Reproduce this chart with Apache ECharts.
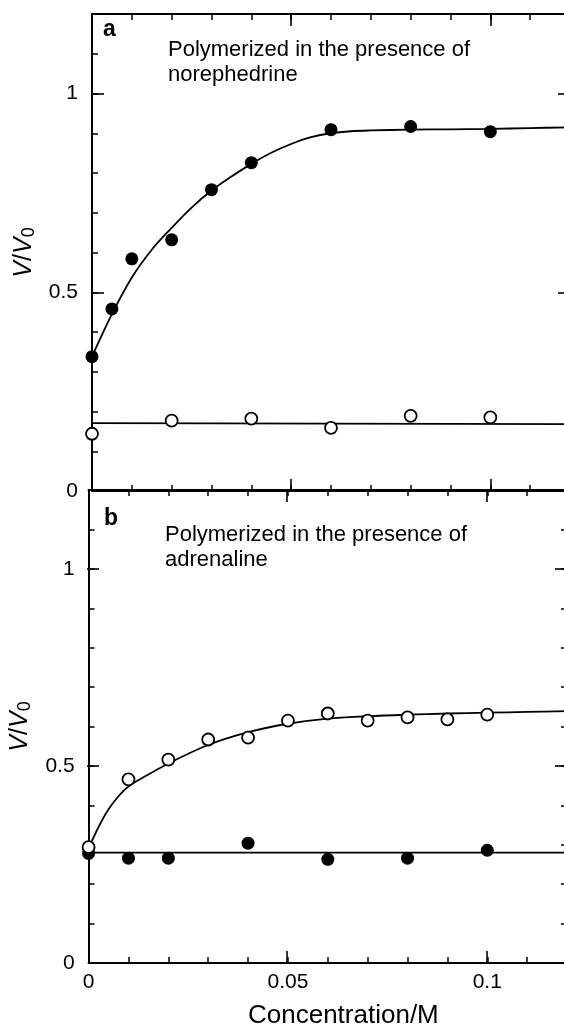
<!DOCTYPE html>
<html><head><meta charset="utf-8">
<script src="https://cdn.jsdelivr.net/npm/echarts@6/dist/echarts.min.js"></script>
<style>html,body{margin:0;padding:0;overflow:hidden;background:#fff}#c{width:574px;height:1027px}</style>
</head><body><div id="c"></div>
<script>
// ---- Panel a: polymerized in the presence of norephedrine ----
const concFilledA = [0, 0.005, 0.01, 0.02, 0.03, 0.04, 0.06, 0.08, 0.1];
const valFilledA  = [0.338, 0.458, 0.584, 0.632, 0.758, 0.826, 0.909, 0.917, 0.904];
const concOpenA   = [0, 0.02, 0.04, 0.06, 0.08, 0.1];
const valOpenA    = [0.144, 0.177, 0.182, 0.159, 0.189, 0.185];
const concFitA    = [0, 0.005, 0.01, 0.015, 0.02, 0.025, 0.03, 0.035, 0.04, 0.045, 0.05, 0.055, 0.06, 0.065, 0.07, 0.08, 0.09, 0.1, 0.11, 0.12];
const valFitA     = [0.338, 0.445, 0.537, 0.607, 0.662, 0.713, 0.756, 0.791, 0.823, 0.851, 0.873, 0.890, 0.900, 0.905, 0.907, 0.909, 0.910, 0.911, 0.913, 0.915];
const concFlatA   = [0, 0.12];
const valFlatA    = [0.171, 0.168];

// ---- Panel b: polymerized in the presence of adrenaline ----
const concOpenB   = [0, 0.01, 0.02, 0.03, 0.04, 0.05, 0.06, 0.07, 0.08, 0.09, 0.1];
const valOpenB    = [0.294, 0.466, 0.516, 0.567, 0.572, 0.615, 0.633, 0.615, 0.623, 0.618, 0.630];
const concFilledB = [0, 0.01, 0.02, 0.04, 0.06, 0.08, 0.1];
const valFilledB  = [0.278, 0.266, 0.266, 0.304, 0.263, 0.266, 0.286];
const concFitB    = [0, 0.0025, 0.005, 0.0075, 0.01, 0.015, 0.02, 0.025, 0.03, 0.035, 0.04, 0.05, 0.06, 0.07, 0.08, 0.09, 0.1, 0.11, 0.12];
const valFitB     = [0.291, 0.345, 0.39, 0.423, 0.448, 0.478, 0.506, 0.531, 0.553, 0.571, 0.586, 0.607, 0.620, 0.626, 0.630, 0.633, 0.635, 0.637, 0.639];
const concFlatB   = [0, 0.12];
const valFlatB    = [0.280, 0.280];

// ---- Axis ticks / labels ----
const xLabels = [0, 0.05, 0.1];
const xMajor  = [0.05, 0.1];
const yLabels = [0, 0.5, 1];
const yMajor  = [0.5, 1];
const panelTitlesA = ['Polymerized in the presence of', 'norephedrine'];
const panelTitlesB = ['Polymerized in the presence of', 'adrenaline'];

const FONT = 'Liberation Sans, Arial, Helvetica, sans-serif';
const INK = '#000';
const zip = (xs, ys) => xs.map((x, i) => [x, ys[i]]);

function minorX(grid, pos, labels) {
  return {
    type: 'value', gridIndex: grid, position: pos, min: 0, max: 0.12, interval: 0.01,
    axisLine: {show: true, onZero: false, lineStyle: {color: INK, width: 2}},
    axisTick: {show: true, inside: true, length: 6, lineStyle: {color: INK, width: 1.5}},
    axisLabel: labels ? {show: true, margin: 9, fontSize: 21, color: INK, fontFamily: FONT,
      customValues: xLabels,
      formatter: v => { const t = xLabels.find(t => Math.abs(t - v) < 1e-9); return t === undefined ? '' : String(t); }
    } : {show: false},
    splitLine: {show: false}
  };
}
function majorX(grid, pos) {
  return {
    type: 'value', gridIndex: grid, position: pos, min: 0, max: 0.12, interval: 0.05,
    axisLine: {show: false, onZero: false},
    axisTick: {show: true, inside: true, length: 12, customValues: xMajor, lineStyle: {color: INK, width: 1.6}},
    axisLabel: {show: false}, splitLine: {show: false}
  };
}
function minorY(grid, pos, labels) {
  const ax = {
    type: 'value', gridIndex: grid, position: pos, min: 0, max: 1.2, interval: 0.1,
    axisLine: {show: true, onZero: false, lineStyle: {color: INK, width: 2}},
    axisTick: {show: true, inside: true, length: 6, lineStyle: {color: INK, width: 1.5}},
    axisLabel: labels ? {show: true, margin: 14, fontSize: 21, color: INK, fontFamily: FONT,
      customValues: yLabels,
      formatter: v => { const t = yLabels.find(t => Math.abs(t - v) < 1e-9); return t === undefined ? '' : String(t); }
    } : {show: false},
    splitLine: {show: false}
  };
  if (labels) {
    ax.name = '{i|V}{n|/}{i|V}{s|0}';
    ax.nameLocation = 'middle';
    ax.nameRotate = 90;
    ax.nameGap = 52;
    ax.nameTextStyle = {
      rich: {
        i: {fontStyle: 'italic', fontSize: 25, fontFamily: FONT, color: INK, lineHeight: 28},
        n: {fontSize: 25, fontFamily: FONT, color: INK, lineHeight: 28},
        s: {fontSize: 18, fontFamily: FONT, color: INK, lineHeight: 28, verticalAlign: 'bottom', padding: [8, 0, 0, 0]}
      }
    };
  }
  return ax;
}
function majorY(grid, pos) {
  return {
    type: 'value', gridIndex: grid, position: pos, min: 0, max: 1.2, interval: 0.5,
    axisLine: {show: false, onZero: false},
    axisTick: {show: true, inside: true, length: 12, customValues: yMajor, lineStyle: {color: INK, width: 1.6}},
    axisLabel: {show: false}, splitLine: {show: false}
  };
}
function lineSeries(xi, yi, xs, ys, smooth) {
  return {type: 'line', xAxisIndex: xi, yAxisIndex: yi, data: zip(xs, ys), smooth: smooth,
    symbol: 'none', lineStyle: {color: INK, width: 1.8}, z: 2, silent: true};
}
function dots(xi, yi, xs, ys, open) {
  return {type: 'scatter', xAxisIndex: xi, yAxisIndex: yi, data: zip(xs, ys), clip: false,
    symbol: 'circle', symbolSize: open ? 12 : 13, z: open ? 4 : 3,
    itemStyle: open ? {color: '#fff', borderColor: INK, borderWidth: 1.8, opacity: 1} : {color: INK, opacity: 1}};
}
function txt(x, y, s, size, bold) {
  return {type: 'text', x: x, y: y, z: 10, style: {text: s, fill: INK, font: (bold ? 'bold ' : '') + size + 'px ' + FONT,
    textAlign: 'left', textVerticalAlign: 'middle'}};
}

const chart = echarts.init(document.getElementById('c'), null, {renderer: 'canvas'});
chart.setOption({
  animation: false,
  backgroundColor: '#fff',
  grid: [
    {left: 92, top: 14, width: 478, height: 477},
    {left: 92, top: 14, width: 478, height: 477},
    {left: 87, top: 490, width: 480, height: 473},
    {left: 87, top: 490, width: 480, height: 473}
  ],
  xAxis: [
    minorX(0, 'bottom', false), minorX(0, 'top', false),
    majorX(1, 'bottom'), majorX(1, 'top'),
    minorX(2, 'bottom', true), minorX(2, 'top', false),
    majorX(3, 'bottom'), majorX(3, 'top')
  ],
  yAxis: [
    minorY(0, 'left', true), minorY(0, 'right', false),
    majorY(1, 'left'), majorY(1, 'right'),
    minorY(2, 'left', true), minorY(2, 'right', false),
    majorY(3, 'left'), majorY(3, 'right')
  ],
  series: [
    lineSeries(0, 0, concFitA, valFitA, 0.35),
    lineSeries(0, 0, concFlatA, valFlatA, false),
    dots(0, 0, concFilledA, valFilledA, false),
    dots(0, 0, concOpenA, valOpenA, true),
    lineSeries(4, 4, concFitB, valFitB, 0.35),
    lineSeries(4, 4, concFlatB, valFlatB, false),
    dots(4, 4, concFilledB, valFilledB, false),
    dots(4, 4, concOpenB, valOpenB, true)
  ],
  graphic: [
    txt(103, 30, 'a', 23, true),
    txt(168, 50, panelTitlesA[0], 22, false),
    txt(168, 75, panelTitlesA[1], 22, false),
    txt(104, 519, 'b', 23, true),
    txt(165, 535, panelTitlesB[0], 22, false),
    txt(165, 560, panelTitlesB[1], 22, false),
    txt(248, 1016, 'Concentration/M', 26, false)
  ]
});
</script></body></html>
